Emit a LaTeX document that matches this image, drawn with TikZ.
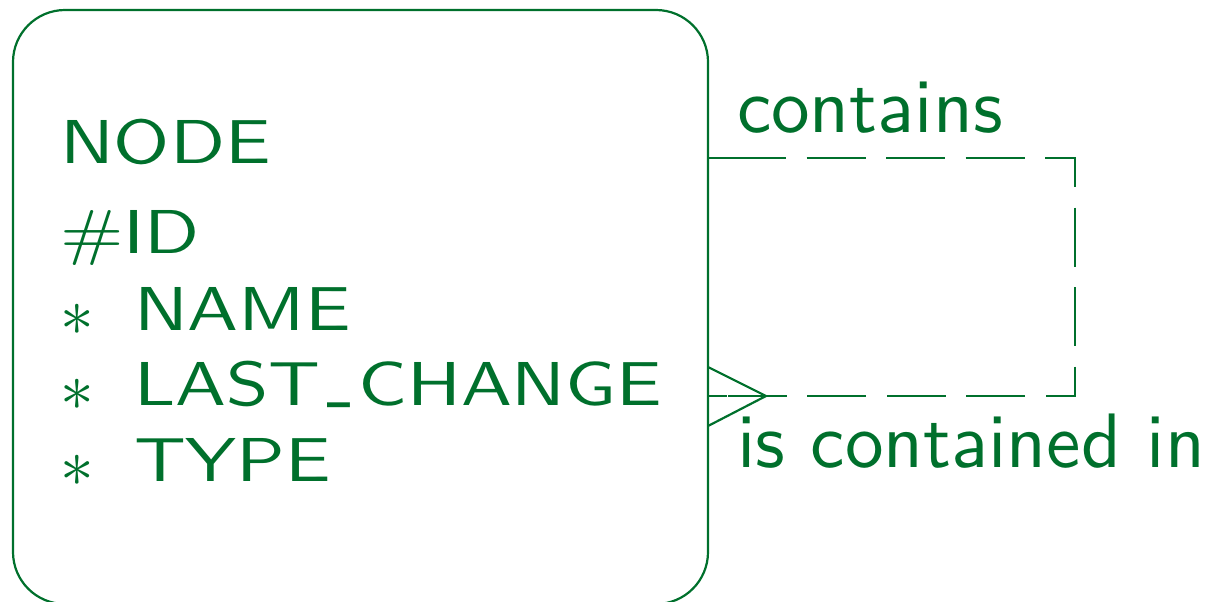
\documentclass[tikz,border=0pt]{standalone}
\usepackage{fontspec}
\newfontfamily\boxfont{lmsans10-regular.otf}[FakeStretch=1.23]
\newfontfamily\lblfont{lmsans10-regular.otf}
\definecolor{ergreen}{RGB}{0,112,44}
\newcommand{\attrstar}{\raisebox{-2.5pt}{\scalebox{1.35}{$\ast$}}}
\begin{document}
\begin{tikzpicture}[x=0.5pt,y=-0.5pt,
  every node/.style={inner sep=0pt,outer sep=0pt,text=ergreen},
  entity/.style={draw=ergreen,line width=1.1pt,rounded corners=26pt,
    minimum width=347.5pt,minimum height=297pt},
  attr/.style={anchor=base west,font=\boxfont\fontsize{31}{36}\selectfont},
  lbl/.style={anchor=base west,font=\lblfont\fontsize{38.6}{46}\selectfont},
  rel/.style={draw=ergreen,line width=1.1pt},
  reldash/.style={rel,dash pattern=on 29.5pt off 10.25pt}]
\useasboundingbox (0,0) rectangle (1210,601);
\node[entity] (ent) at (360.5,307) {};
\node[attr] (title) at (60,163) {NODE};
\node[attr] (id) at (60,253) {\#ID};
\node[attr] (s1) at (60,330) {\attrstar};
\node[attr] (a1) at (134,330) {NAME};
\node[attr] (s2) at (60,405) {\attrstar};
\node[attr] (a2) at (134,405) {LAST\kern0.12em\raisebox{0.12em}{\scalebox{0.45}[1]{\_}}\kern0.12em CHANGE};
\node[attr] (s3) at (60,481) {\attrstar};
\node[attr] (a3) at (134,481) {TYPE};
\node[lbl] (l1) at (737,132) {contains};
\node[lbl] (l2) at (737,467) {is contained in};
% relationship
\coordinate (p1) at (ent.east |- 0,158);
\coordinate (p2) at (ent.east |- 0,396);
\coordinate (q1) at (727,158);
\coordinate (q2) at (727,396);
\coordinate (r1) at (1075,158);
\coordinate (r2) at (1075,396);
\coordinate (toe) at (766,396);
\draw[rel] (p1) -- (q1);
\draw[rel] (p2) -- (q2);
\draw[reldash] (q1) -- (r1) -- (r2) -- (q2);
\draw[rel] (ent.east |- 0,367) -- (toe) -- (ent.east |- 0,426);
\end{tikzpicture}
\end{document}
